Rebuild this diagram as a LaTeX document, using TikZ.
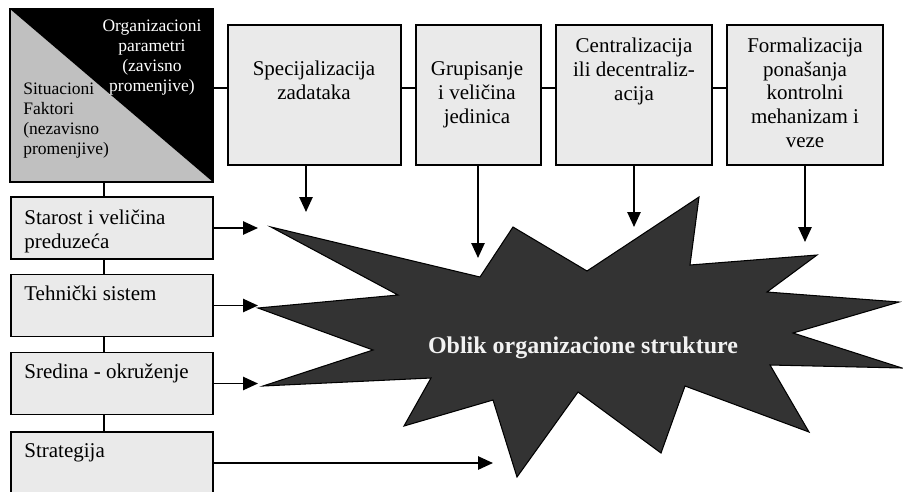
\documentclass[tikz,border=0pt]{standalone}
\usepackage{fontspec}
\setmainfont{Liberation Serif}
\usetikzlibrary{arrows.meta}
\definecolor{boxfill}{HTML}{EAEAEA}
\definecolor{trigray}{HTML}{C0C0C0}
\definecolor{starfill}{HTML}{333333}
\definecolor{startext}{HTML}{F2F2F2}
\begin{document}
\begin{tikzpicture}[x=0.5714pt,y=-0.5714pt,
  ln/.style={line width=1.1pt},
  box/.style={draw,line width=1.1pt,fill=boxfill,inner sep=0pt,minimum width=#1*0.5714pt},
  txt/.style={font=\fontsize{12}{13.5}\selectfont,align=center,anchor=base,inner sep=0pt},
  ltxt/.style={txt,align=left,anchor=base west},
  stxt/.style={font=\fontsize{10}{11.3}\selectfont,align=center,anchor=base,inner sep=0pt},
  arr/.style={line width=1.1pt,-{Triangle[length=8.5pt,width=7.5pt]}}]
\useasboundingbox (0,0) rectangle (903,491);
\def\sh{0.5714pt};
\node[inner sep=0pt,minimum width=203*\sh,minimum height=173*\sh] (sq) at (111.5,95.5) {};
\fill[trigray] (sq.north west) -- (sq.south east) -- (sq.south west) -- cycle;
\fill[black] (sq.north west) -- (sq.north east) -- (sq.south east) -- cycle;
\draw[ln] (sq.north west) rectangle (sq.south east);
\node[stxt,text=white] (orgT) at (152,91) {Organizacioni\\parametri\\(zavisno\\promenjive)};
\node[stxt,align=left,anchor=base west] (sitT) at (23,154) {Situacioni\\Faktori\\(nezavisno\\promenjive)};
\foreach\n/\x/\w in {spec/314.5/173,grup/478.5/125,cent/634/156,form/805/156}
  \node[box=\w,minimum height=140*\sh] (\n) at (\x,95) {};
\foreach\n/\y in {age/228,tech/305.5,env/383.5,strat/463}
  \node[box=202,minimum height=62*\sh] (\n) at (112,\y) {};
\node[txt] (specT) at (314,99) {Specijalizacija\\zadataka};
\node[txt] (grupT) at (477,123) {Grupisanje\\i veličina\\jedinica};
\node[txt] (centT) at (634,100) {Centralizacija\\ili decentraliz-\\acija};
\node[txt] (formT) at (805,147) {Formalizacija\\ponašanja\\kontrolni\\mehanizam i\\veze};
\node[ltxt] (ageT) at (24,248) {Starost i veličina\\preduzeća};
\node[ltxt] (techT) at (24,300) {Tehnički sistem};
\node[ltxt] (envT) at (24,378) {Sredina - okruženje};
\node[ltxt] (stratT) at (24,457) {Strategija};
\coordinate (hl) at (0,88);
\coordinate (vl) at (104,0);
\foreach\a/\b in {sq/spec,spec/grup,grup/cent,cent/form}
  \draw[ln] (\a.east |- hl) -- (\b.west |- hl);
\foreach\a/\b in {sq/age,age/tech,tech/env,env/strat}
  \draw[ln] (\a.south -| vl) -- (\b.north -| vl);
\fill[starfill,draw=black,line width=0.6pt] (271,227) -- (480,277) -- (513,227) -- (587,271)
  -- (699,197) -- (690,265) -- (817,255) -- (767,292) -- (899,302) -- (793,333)
  -- (902,368) -- (770,365) -- (809,432) -- (685,386) -- (661,453) -- (578,392)
  -- (517,477) -- (493,400) -- (404,426) -- (431,378) -- (263,386) -- (373,350)
  -- (258,308) -- (398,295) -- cycle;
\node[font=\bfseries\fontsize{13.7}{15}\selectfont,text=startext,anchor=base,inner sep=0pt] (starT) at (583,353) {Oblik organizacione strukture};
\foreach\n/\x/\y in {spec/306/212,grup/478/258,cent/634/227,form/805/242} {
  \coordinate (\n tip) at (\x,\y);
  \draw[arr] (\n.south -| \n tip) -- (\n tip);
}
\foreach\n/\x in {age/258,tech/258,env/258,strat/493} {
  \coordinate (\n tip) at (\x,0 |- \n.east);
  \draw[arr] (\n.east) -- (\n tip);
}
\end{tikzpicture}
\end{document}
